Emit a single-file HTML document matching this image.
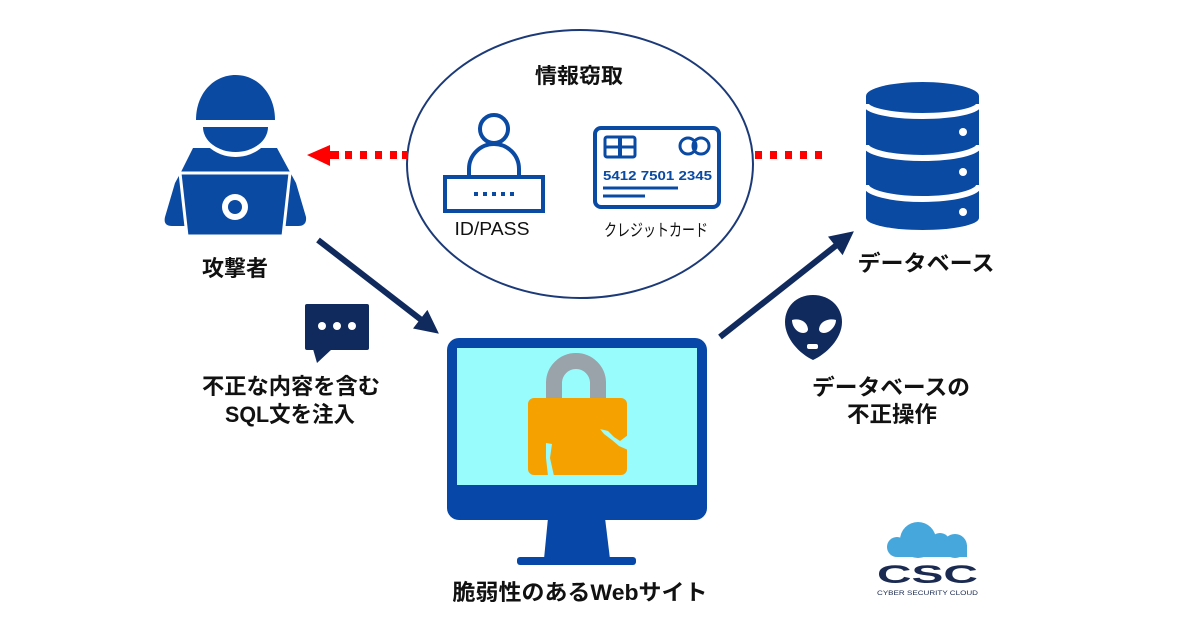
<!DOCTYPE html>
<html><head><meta charset="utf-8">
<style>
html,body{margin:0;padding:0;background:#fff;}
svg{display:block;}
text{font-family:"Liberation Sans","Noto Sans CJK JP",sans-serif;}
</style></head>
<body>
<svg width="1200" height="630" viewBox="0 0 1200 630" xmlns="http://www.w3.org/2000/svg">
<rect width="1200" height="630" fill="#fff"/>

<!-- Big ellipse -->
<ellipse cx="580" cy="164" rx="173" ry="134" fill="none" stroke="#1c3a78" stroke-width="2"/>

<!-- Red dotted arrow left -->
<g fill="#ff0000">
  <polygon points="307,155 330,145 330,166"/>
  <rect x="329" y="151" width="10" height="8"/>
  <rect x="345" y="151" width="7" height="8"/>
  <rect x="360" y="151" width="7" height="8"/>
  <rect x="375" y="151" width="7" height="8"/>
  <rect x="390" y="151" width="7" height="8"/>
  <rect x="402" y="151" width="6" height="8"/>
  <!-- right dots -->
  <rect x="755" y="151" width="7" height="8"/>
  <rect x="770" y="151" width="7" height="8"/>
  <rect x="785" y="151" width="7" height="8"/>
  <rect x="800" y="151" width="7" height="8"/>
  <rect x="815" y="151" width="7" height="8"/>
</g>

<!-- Attacker -->
<g fill="#0a4aa3">
  <path d="M193,148 L277,148 L290,172 L296,183 L306,217 Q307,226 298,226 L172,226 Q163,226 165,217 L175,183 L181,172 Z"/>
  <path d="M196,119 L275,119 A39.5,38 0 0 1 196,119 Z" fill="#fff"/>
  <path d="M203,127 L268,127 A32.5,25 0 0 1 203,127 Z"/>
  <path d="M196,120 C196,93 214,75 235.5,75 C257,75 275,93 275,120 Z"/>
  <polygon points="180,173 290,173 283,236 187,236" stroke="#fff" stroke-width="3"/>
  <circle cx="235" cy="207" r="13" fill="#fff"/>
  <circle cx="235" cy="207" r="7"/>
</g>
<text x="235" y="276" font-size="22" font-weight="bold" text-anchor="middle" fill="#111" textLength="66" lengthAdjust="spacingAndGlyphs">攻撃者</text>

<!-- Ellipse content -->
<text x="579" y="83" font-size="21" font-weight="bold" text-anchor="middle" fill="#111" textLength="88" lengthAdjust="spacingAndGlyphs">情報窃取</text>

<g fill="none" stroke="#0a4aa3" stroke-width="4">
  <circle cx="494" cy="129" r="14"/>
  <path d="M469,175 L469,169 A25,25 0 0 1 519,169 L519,175"/>
  <rect x="445" y="177" width="98" height="34"/>
</g>
<g fill="#0a4aa3">
  <rect x="474" y="192" width="4" height="4"/>
  <rect x="483" y="192" width="4" height="4"/>
  <rect x="492" y="192" width="4" height="4"/>
  <rect x="501" y="192" width="4" height="4"/>
  <rect x="510" y="192" width="4" height="4"/>
</g>
<text x="492" y="235" font-size="18" text-anchor="middle" fill="#111" textLength="75" lengthAdjust="spacingAndGlyphs">ID/PASS</text>

<!-- Card -->
<g fill="none" stroke="#0a4aa3">
  <rect x="595" y="128" width="124" height="79" rx="6" stroke-width="4"/>
  <rect x="605" y="137" width="30" height="20" rx="2" stroke-width="3"/>
  <line x1="620" y1="137" x2="620" y2="157" stroke-width="4"/>
  <line x1="605" y1="147" x2="635" y2="147" stroke-width="3"/>
  <circle cx="688" cy="146" r="8" stroke-width="3"/>
  <circle cx="701" cy="146" r="8" stroke-width="3"/>
  <line x1="603" y1="188" x2="678" y2="188" stroke-width="3"/>
  <line x1="603" y1="196" x2="645" y2="196" stroke-width="3"/>
</g>
<text x="603" y="180" font-size="13" font-weight="bold" fill="#0a4aa3" textLength="109" lengthAdjust="spacingAndGlyphs">5412 7501 2345</text>
<text x="656" y="236" font-size="17" text-anchor="middle" fill="#111" textLength="104" lengthAdjust="spacingAndGlyphs">クレジットカード</text>

<!-- Database -->
<g>
  <path d="M866,96 A56.5,14 0 0 1 979,96 L979,218 A56.5,12 0 0 1 866,218 Z" fill="#0a4aa3"/>
  <g fill="none" stroke="#fff" stroke-width="6">
    <path d="M866,104 A56.5,12 0 0 0 979,104"/>
    <path d="M866,145 A56.5,13 0 0 0 979,145"/>
    <path d="M866,185 A56.5,14 0 0 0 979,185"/>
  </g>
  <g fill="#fff">
    <circle cx="963" cy="132" r="4"/>
    <circle cx="963" cy="172" r="4"/>
    <circle cx="963" cy="212" r="4"/>
  </g>
</g>
<text x="926" y="271" font-size="22" font-weight="bold" text-anchor="middle" fill="#111" textLength="137" lengthAdjust="spacingAndGlyphs">データベース</text>

<!-- Navy arrows -->
<g fill="#112a5e" stroke="#112a5e">
  <line x1="318" y1="240" x2="424" y2="322" stroke-width="6"/>
  <polygon points="438,333 413.9,328.2 427.3,310.8" stroke-width="1"/>
  <line x1="720" y1="337" x2="838" y2="244" stroke-width="6"/>
  <polygon points="853,232 842.5,254.2 828.9,237" stroke-width="1"/>
</g>

<!-- Speech bubble -->
<g fill="#112a5e">
  <rect x="305" y="304" width="64" height="46" rx="2"/>
  <polygon points="313,349 332,349 317,363"/>
</g>
<g fill="#fff">
  <circle cx="322" cy="326" r="4"/>
  <circle cx="337" cy="326" r="4"/>
  <circle cx="352" cy="326" r="4"/>
</g>
<text x="291" y="394" font-size="22" font-weight="bold" text-anchor="middle" fill="#111" textLength="178" lengthAdjust="spacingAndGlyphs">不正な内容を含む</text>
<text x="290" y="422" font-size="22" font-weight="bold" text-anchor="middle" fill="#111" textLength="130" lengthAdjust="spacingAndGlyphs">SQL文を注入</text>

<!-- Alien -->
<path d="M813,295 C830,295 842,307 842,322 C842,339 826,354 813,360 C800,354 785,339 785,322 C785,307 796,295 813,295 Z" fill="#112a5e"/>
<g fill="#fff">
  <path d="M792,320 C799,318 807,321 808,329 C808,333 803,334 799,332 C795,330 792,325 792,320 Z"/>
  <path d="M836,320 C829,318 820,321 819,329 C819,333 824,334 828,332 C832,330 836,325 836,320 Z"/>
  <rect x="807" y="344" width="11" height="5" rx="2"/>
</g>
<text x="891" y="395" font-size="22" font-weight="bold" text-anchor="middle" fill="#111" textLength="158" lengthAdjust="spacingAndGlyphs">データベースの</text>
<text x="892" y="422" font-size="22" font-weight="bold" text-anchor="middle" fill="#111" textLength="90" lengthAdjust="spacingAndGlyphs">不正操作</text>

<!-- Monitor -->
<rect x="447" y="338" width="260" height="182" rx="12" fill="#0647a8"/>
<rect x="457" y="348" width="240" height="137" fill="#98fcfd"/>
<polygon points="548,518 605,518 610,559 544,559" fill="#0647a8"/>
<rect x="517" y="557" width="119" height="8" rx="3" fill="#0647a8"/>
<!-- Lock -->
<path d="M554,401 L554,383 A22,22 0 0 1 598,383 L598,401" fill="none" stroke="#9aa2aa" stroke-width="16"/>
<rect x="528" y="398" width="99" height="77" rx="6" fill="#f5a100"/>
<polygon points="600,429 608,431 614,437 620,441 628,435 628,450 619,446 612,440 604,434" fill="#98fcfd"/>
<polygon points="546,443 552,444 550,458 554,476 548,476 546,458" fill="#98fcfd"/>
<text x="580" y="600" font-size="22" font-weight="bold" text-anchor="middle" fill="#111" textLength="255" lengthAdjust="spacingAndGlyphs">脆弱性のあるWebサイト</text>

<!-- CSC logo -->
<g fill="#46a7dc">
  <circle cx="897" cy="547" r="10"/>
  <circle cx="918" cy="540" r="18"/>
  <circle cx="955" cy="546" r="12"/>
  <rect x="897" y="545" width="70" height="12"/>
  <circle cx="940" cy="543" r="10"/>
</g>
<text x="877" y="583" font-size="25" font-weight="bold" fill="#1a2a50" textLength="101" lengthAdjust="spacingAndGlyphs">CSC</text>
<text x="877" y="595" font-size="6" fill="#1a2a50" textLength="101" lengthAdjust="spacingAndGlyphs">CYBER SECURITY CLOUD</text>
</svg>
</body></html>
